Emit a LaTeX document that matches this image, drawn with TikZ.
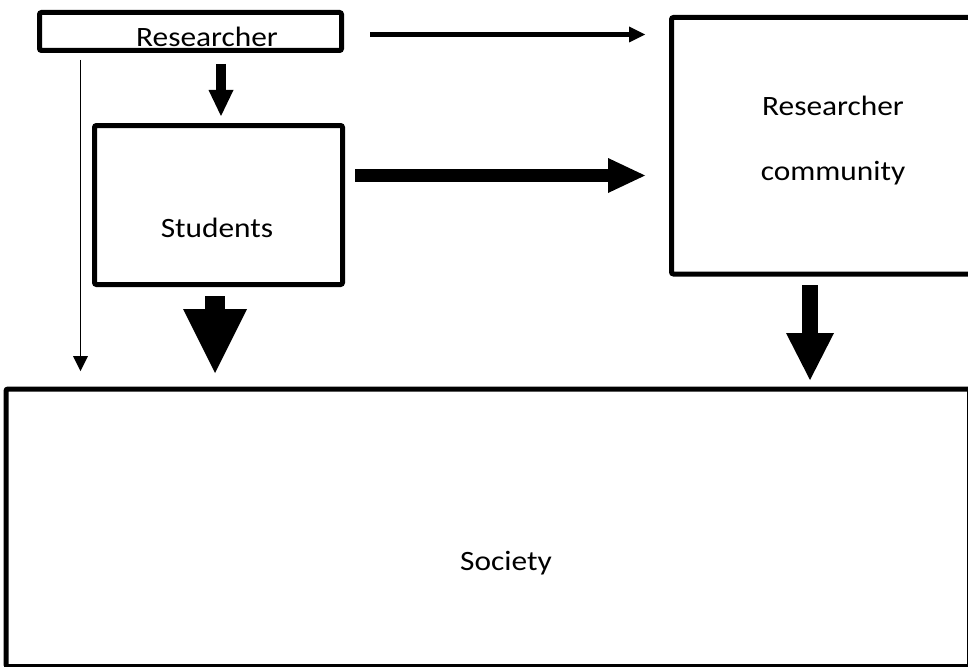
\documentclass[tikz,border=0pt]{standalone}
\usepackage{fontspec}
\setmainfont{Carlito}
\usetikzlibrary{arrows.meta}
\newcommand\wtxt[1]{\scalebox{1.12}[1]{\fontsize{28}{34}\selectfont #1}}
\begin{document}
\begin{tikzpicture}[x=1pt,y=-1pt,
  boxn/.style={draw, line width=5pt, rounded corners=2pt, inner sep=0pt, outer sep=0pt},
  lbl/.style={anchor=base, inner sep=0pt, outer sep=0pt},
  conn/.style n args={3}{line width=#1, -{Triangle[length=#2, width=#3, line width=0pt]}}]
\useasboundingbox (0,0) rectangle (968,666);
% boxes
\node[boxn, minimum width=302pt, minimum height=38pt] (rbox) at (190.5,31.5) {};
\node[boxn, minimum width=248pt, minimum height=159pt] (sbox) at (218.5,205) {};
\node[boxn, minimum width=318.5pt, minimum height=256.5pt] (rcbox) at (830.75,145.75) {};
\node[boxn, minimum width=963.5pt, minimum height=277.5pt] (soc) at (487.75,527.75) {};
% labels
\node[lbl] (t1) at (207,47) {\wtxt{Researcher}};
\node[lbl] (t2) at (833,115) {\wtxt{Researcher}};
\node[lbl] (t3) at (833,180) {\wtxt{community}};
\node[lbl] (t4) at (217,237) {\wtxt{Students}};
\node[lbl] (t5) at (506,570) {\wtxt{Society}};
% connector ends
\coordinate (a1s) at (370,34.5);  \coordinate (a1e) at (645,34.5);
\coordinate (a2s) at (221,64);    \coordinate (a2e) at (221,116);
\coordinate (a3s) at (80.5,60);   \coordinate (a3e) at (80.5,371);
\coordinate (a4s) at (215,296);   \coordinate (a4e) at (215,373);
\coordinate (a5s) at (355,175.5); \coordinate (a5e) at (645,175.5);
\coordinate (a6s) at (810,285);   \coordinate (a6e) at (810,380);
% connectors
\draw[conn={5pt}{16pt}{16pt}] (a1s) -- (a1e);
\draw[conn={10pt}{26pt}{25pt}] (a2s) -- (a2e);
\draw[conn={1.5pt}{15pt}{15pt}] (a3s) -- (a3e);
\draw[conn={20pt}{64pt}{64pt}] (a4s) -- (a4e);
\draw[conn={13pt}{37pt}{35pt}] (a5s) -- (a5e);
\draw[conn={16pt}{47pt}{48pt}] (a6s) -- (a6e);
\end{tikzpicture}
\end{document}
